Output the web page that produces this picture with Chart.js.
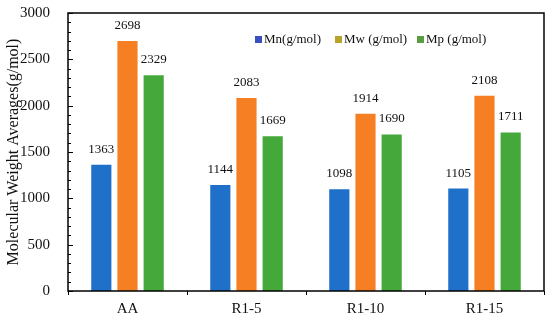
<!DOCTYPE html>
<html lang="en">
<head>
<meta charset="UTF-8">
<title>Molecular Weight Averages</title>
<script src="https://cdn.jsdelivr.net/npm/chart.js"></script>
<style>
  html, body { margin: 0; padding: 0; background: #fff; }
  #wrap { width: 550px; height: 321px; }
</style>
</head>
<body>
<div id="wrap"><canvas id="mwChart"></canvas></div>
<script>
const samples = ["AA", "R1-5", "R1-10", "R1-15"];
const mnValues = [1363, 1144, 1098, 1105];
const mwValues = [2698, 2083, 1914, 2108];
const mpValues = [2329, 1669, 1690, 1711];
const yTicks = [0, 500, 1000, 1500, 2000, 2500, 3000];

const serif = "'Liberation Serif', 'Times New Roman', serif";
const barColors = ['#1f70c8', '#f57f22', '#45a83a'];
const legendColors = ['#3a50c0', '#b8a22e', '#5a9c40'];

// box, inside ticks, value labels and legend
const extras = {
  id: 'extras',
  afterDatasetsDraw(chart) {
    const ctx = chart.ctx;
    const a = chart.chartArea;
    const y = chart.scales.y;
    ctx.save();
    ctx.strokeStyle = '#000';
    ctx.lineWidth = 1.5;
    ctx.strokeRect(a.left, a.top, a.right - a.left, a.bottom - a.top);

    // minor/major ticks pointing inwards
    ctx.lineWidth = 1;
    for (let v = 0; v <= 3000; v += 100) {
      const py = Math.round(y.getPixelForValue(v)) + 0.5;
      const len = v % 500 === 0 ? 5 : 3;
      ctx.beginPath();
      ctx.moveTo(a.left, py);
      ctx.lineTo(a.left + len, py);
      ctx.stroke();
    }

    // values above bars
    ctx.fillStyle = '#111';
    ctx.font = '13px ' + serif;
    ctx.textAlign = 'center';
    ctx.textBaseline = 'bottom';
    chart.data.datasets.forEach((ds, i) => {
      chart.getDatasetMeta(i).data.forEach((bar, j) => {
        ctx.fillText(ds.data[j], bar.x, bar.y - 9);
      });
    });

    // legend
    ctx.font = '13px ' + serif;
    ctx.textAlign = 'left';
    ctx.textBaseline = 'middle';
    const legX = [255, 335, 417];
    chart.data.datasets.forEach((ds, i) => {
      ctx.fillStyle = legendColors[i];
      ctx.fillRect(legX[i], 36, 7, 7);
      ctx.fillStyle = '#111';
      ctx.fillText(ds.label, legX[i] + 9, 40);
    });
    ctx.restore();
  }
};

new Chart(document.getElementById('mwChart'), {
  type: 'bar',
  data: {
    labels: samples,
    datasets: [
      { label: 'Mn(g/mol)', data: mnValues, backgroundColor: barColors[0] },
      { label: 'Mw (g/mol)', data: mwValues, backgroundColor: barColors[1] },
      { label: 'Mp (g/mol)', data: mpValues, backgroundColor: barColors[2] }
    ]
  },
  options: {
    responsive: true,
    maintainAspectRatio: false,
    animation: false,
    categoryPercentage: 0.66,
    barPercentage: 0.77,
    layout: { padding: { top: 13, right: 6, left: 0, bottom: 0 } },
    plugins: {
      legend: { display: false },
      tooltip: { enabled: false }
    },
    scales: {
      x: {
        grid: { display: true, drawOnChartArea: false, drawTicks: true, tickLength: 4, color: '#000', offset: true },
        border: { display: false },
        ticks: { color: '#111', font: { family: serif, size: 15 }, padding: 5 },
        afterFit(s) { s.height = 30; s.paddingLeft = 0; s.paddingRight = 0; }
      },
      y: {
        min: 0,
        max: 3000,
        afterBuildTicks(s) { s.ticks = yTicks.map(v => ({ value: v })); },
        grid: { display: false },
        border: { display: false },
        ticks: { color: '#111', font: { family: serif, size: 15 }, padding: 10, callback: v => String(v) },
        title: {
          display: true,
          text: 'Molecular Weight Averages(g/mol)',
          color: '#111',
          font: { family: serif, size: 16 },
          padding: { top: 4, bottom: 2 }
        },
        afterFit(s) { s.width = 68; s.paddingTop = 0; s.paddingBottom = 0; }
      }
    }
  },
  plugins: [extras]
});
</script>
</body>
</html>
